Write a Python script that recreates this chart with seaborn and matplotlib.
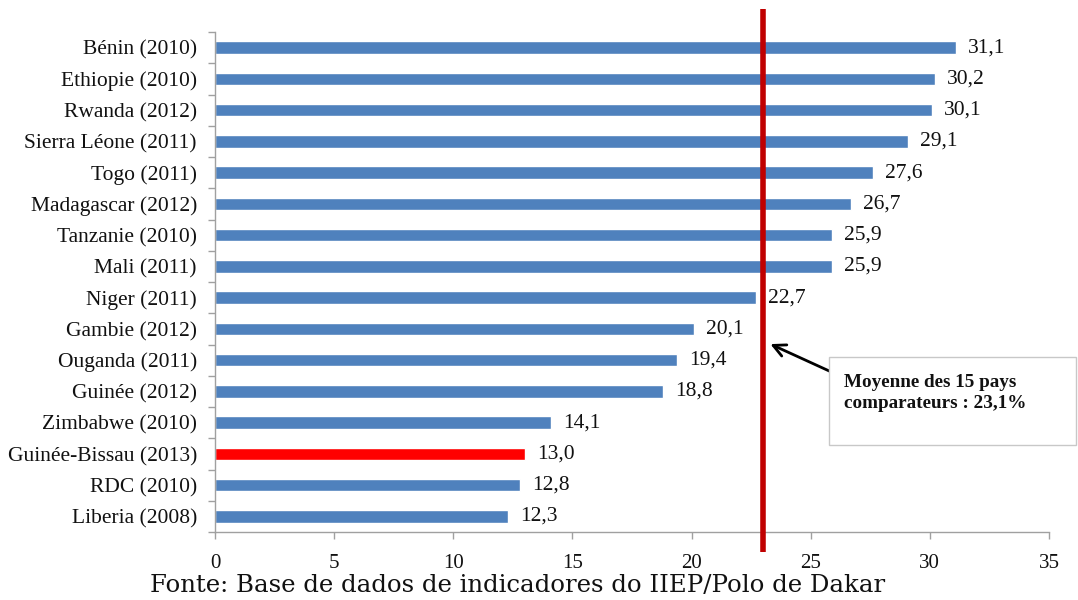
import numpy as np
import pandas as pd
import seaborn as sns
import matplotlib.pyplot as plt
from matplotlib.patches import FancyBboxPatch

pays = ['Bénin (2010)', 'Ethiopie (2010)', 'Rwanda (2012)', 'Sierra Léone (2011)',
        'Togo (2011)', 'Madagascar (2012)', 'Tanzanie (2010)', 'Mali (2011)',
        'Niger (2011)', 'Gambie (2012)', 'Ouganda (2011)', 'Guinée (2012)',
        'Zimbabwe (2010)', 'Guinée-Bissau (2013)', 'RDC (2010)', 'Liberia (2008)']
valeurs = [31.1, 30.2, 30.1, 29.1, 27.6, 26.7, 25.9, 25.9,
           22.7, 20.1, 19.4, 18.8, 14.1, 13.0, 12.8, 12.3]
moyenne = 23.0
moyenne_txt = 'Moyenne des 15 pays\ncomparateurs : 23,1%'
source = 'Fonte: Base de dados de indicadores do IIEP/Polo de Dakar'

sns.set_theme(style='white')
plt.rcParams['font.family'] = ['Liberation Serif', 'DejaVu Serif']

df = pd.DataFrame({'pays': pays, 'val': valeurs})
couleurs = ['#FF0000' if p.startswith('Guinée-Bissau') else '#4F81BD' for p in pays]

fig = plt.figure(figsize=(10.78, 6.0), dpi=100)
ax = fig.add_axes([215 / 1078, 1 - 532 / 600, (1049 - 215) / 1078, 500 / 600])

sns.barplot(data=df, x='val', y='pays', hue='pays', palette=couleurs,
            legend=False, width=0.4, ax=ax, saturation=1)

ax.set_xlim(0, 35)
ax.set_ylim(len(pays) - 0.5, -0.5)
ax.set_xticks(np.arange(0, 36, 5))
ax.set_xlabel('')
ax.set_ylabel('')

for i, v in enumerate(valeurs):
    ax.text(v + 0.5, i, f'{v:.1f}'.replace('.', ','), va='center', ha='left',
            fontsize=15.5, color='#111111')

# tick marks between categories
ax.set_yticks(np.arange(-0.5, len(pays), 1), minor=True)
ax.tick_params(axis='y', which='major', length=0, labelsize=15.5, pad=13, colors='#111111')
ax.tick_params(axis='y', which='minor', length=5, width=1, color='#A0A0A0', direction='out', left=True)
ax.tick_params(axis='x', which='major', length=5, width=1, color='#A0A0A0', direction='out',
               bottom=True, labelsize=15, pad=11, labelcolor='#111111')

for s in ['top', 'right']:
    ax.spines[s].set_visible(False)
for s in ['left', 'bottom']:
    ax.spines[s].set_color('#A0A0A0')
    ax.spines[s].set_linewidth(1)

# red average line extending beyond the axes
ax.plot([moyenne, moyenne], [-1.25, len(pays) - 0.5 + 0.65], color='#C00000', lw=4,
        clip_on=False, zorder=5, solid_capstyle='butt')

# annotation box
box = FancyBboxPatch((829 / 1078, 1 - 445 / 600), (1076 - 829) / 1078, 88 / 600,
                     boxstyle='square,pad=0', transform=fig.transFigure,
                     facecolor='white', edgecolor='#C8C8C8', lw=1)
fig.patches.append(box)
fig.text(844 / 1078, 1 - 374 / 600, moyenne_txt, ha='left', va='top', fontsize=13.8,
         fontweight='bold', linespacing=1.3, color='#111111')
ax.annotate('', xy=(23.2, 9.45), xycoords='data',
            xytext=(838 / 1078, 1 - 375 / 600), textcoords='figure fraction',
            arrowprops=dict(arrowstyle='->', color='black', lw=2, mutation_scale=22))

fig.text(518 / 1078, 1 - 585 / 600, source, ha='center', va='center', fontsize=17.6,
         family=['DejaVu Serif'], color='#111111')

fig.savefig('out.png', dpi=100)
